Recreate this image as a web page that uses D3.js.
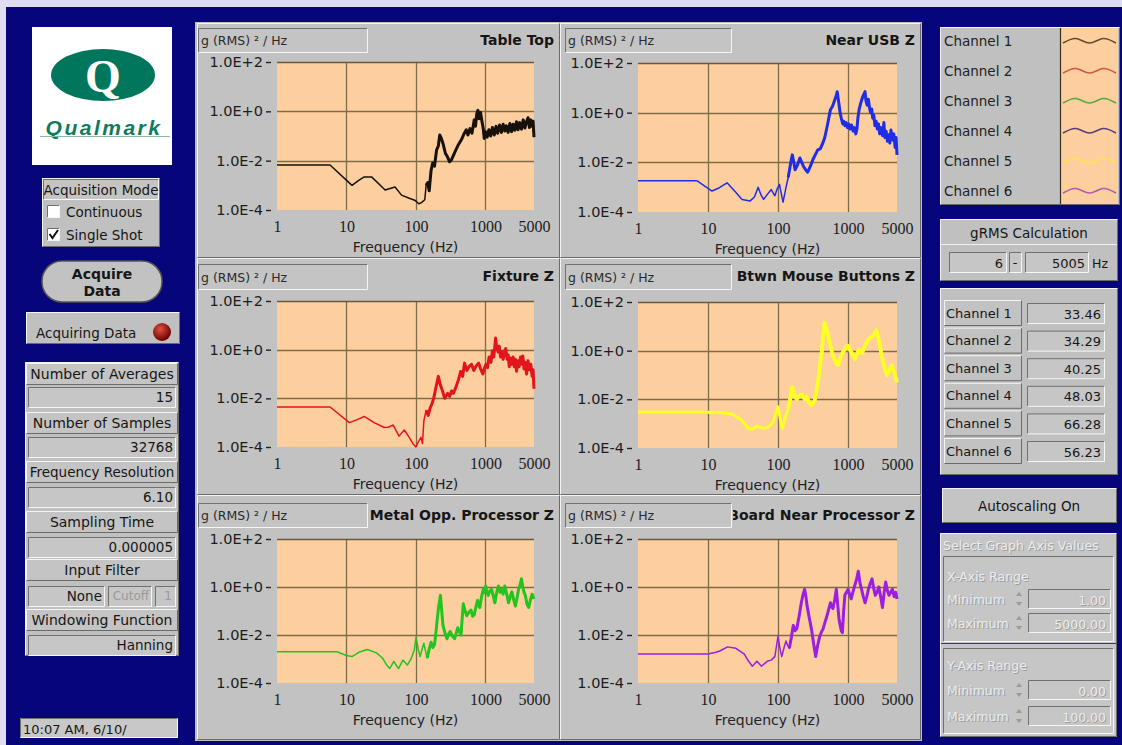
<!DOCTYPE html>
<html><head><meta charset="utf-8">
<script src="https://cdn.jsdelivr.net/npm/d3@7/dist/d3.min.js"></script>
<style>body{margin:0;background:#06067a;}svg{display:block;}</style>
</head><body>
<script>
// ---------------- DATA ----------------
const xTicks = [1, 10, 100, 1000, 5000];
const xTickLabels = ["1", "10", "100", "1000", "5000"];
const yTicks = [1e2, 1, 1e-2, 1e-4];
const yTickLabels = ["1.0E+2", "1.0E+0", "1.0E-2", "1.0E-4"];
const xGrid = [10, 100, 1000];
const yGrid = [1, 1e-2];
const panelTitles = ["Table Top", "Near USB Z", "Fixture Z", "Btwn Mouse Buttons Z", "Metal Opp. Processor Z", "Circuit Board Near Processor Z"];
const yUnit = "g (RMS) \u00B2 / Hz";
const xUnit = "Frequency (Hz)";

const tableTop = [[1,6.7e-3],[5.8,6.7e-3],[12,1.0e-3],[15,1.6e-3],[18,2.2e-3],[23,2.2e-3],[36,6.5e-4],[50,8.5e-4],[62,4e-4],[80,3e-4],[96,2.5e-4],[110,1.8e-4],[120,2e-4],[134,2.6e-4],[140,1e-3],[148,1.3e-3],[155,6e-4],[165,4e-3],[174,8e-3],[185,6e-3],[198,2.7e-2],[210,4e-2],[220,1.1e-1],[232,8e-2],[245,5e-2],[265,2e-2],[285,1.4e-2],[305,9e-3],[325,1.1e-2],[345,1.6e-2],[370,2.5e-2],[400,4e-2],[450,7e-2],[490,1.2e-1],[530,1.8e-1],[560,1.1e-1],[600,2e-1],[640,1.3e-1],[690,4.5e-1],[720,2.5e-1],[750,8e-1],[780,1.1],[810,5e-1],[850,9e-1],[890,4e-1],[930,2e-1],[960,8e-2],[1000,1.5e-1],[1060,9e-2],[1120,1.8e-1],[1190,1e-1],[1260,2.2e-1],[1340,1.1e-1],[1420,2.5e-1],[1500,1.3e-1],[1600,2.8e-1],[1700,1.4e-1],[1800,3e-1],[1900,1.6e-1],[2000,2.6e-1],[2120,1.4e-1],[2250,3.2e-1],[2380,1.5e-1],[2500,3e-1],[2650,1.7e-1],[2800,3.8e-1],[2950,1.8e-1],[3100,3.5e-1],[3300,1.9e-1],[3500,4.5e-1],[3700,2.1e-1],[3900,3.8e-1],[4100,5.5e-1],[4300,2.2e-1],[4500,4.5e-1],[4700,2.5e-1],[4850,4e-1],[5000,9e-2]];

const nearUSB = [[1,1.8e-3],[7,1.8e-3],[11.4,7e-4],[14,9e-4],[18.7,1.5e-3],[24,7e-4],[30.6,3.2e-4],[40,2.8e-4],[46,4e-4],[52,1e-3],[57,5e-4],[62,3.2e-4],[70,5e-4],[80,8e-4],[90,4.5e-4],[98,9e-4],[105,1.3e-3],[112,5e-4],[118,2.5e-4],[128,8e-4],[140,2.5e-3],[150,8e-3],[160,2e-2],[168,1e-2],[175,5e-3],[190,8e-3],[205,1.5e-2],[218,1e-2],[230,7e-3],[248,5e-3],[265,4e-3],[290,7e-3],[315,1.3e-2],[340,2e-2],[370,3.2e-2],[400,3.5e-2],[430,5.4e-2],[465,1e-1],[500,2.6e-1],[530,6e-1],[560,1.3],[600,1.8],[640,3],[680,5],[700,7],[720,4],[745,2],[770,1],[800,6e-1],[840,3.5e-1],[870,4.5e-1],[900,3e-1],[940,4e-1],[980,2.5e-1],[1020,3.5e-1],[1070,2.2e-1],[1120,3.2e-1],[1180,1.8e-1],[1230,2.5e-1],[1290,1.4e-1],[1340,2.2e-1],[1380,6e-1],[1450,1.5],[1550,3],[1650,5],[1750,7],[1800,3],[1880,2],[1950,3.5],[2030,1.5],[2100,1],[2180,1.4],[2250,6e-1],[2330,8e-1],[2420,3e-1],[2520,4.5e-1],[2620,2.2e-1],[2720,3.5e-1],[2830,1.4e-1],[2950,2.5e-1],[3100,1.2e-1],[3250,4e-1],[3350,1e-1],[3500,1.8e-1],[3650,7e-2],[3800,1.3e-1],[3950,6e-2],[4100,2e-1],[4300,8e-2],[4500,1.4e-1],[4700,4e-2],[4850,1e-1],[5000,2e-2]];

const fixtureZ = [[1,4.4e-3],[5.8,4.4e-3],[11,1e-3],[14,1.3e-3],[18,1.8e-3],[25,1e-3],[35,6.3e-4],[40,6.5e-4],[47,8e-4],[57,2.8e-4],[68,5e-4],[80,2.5e-4],[90,1.4e-4],[100,1e-4],[108,1.6e-4],[118,2.5e-4],[124,1.4e-4],[130,1.2e-3],[140,3.2e-3],[150,2e-3],[160,4e-3],[170,6e-3],[180,1e-2],[195,3e-2],[210,8e-2],[222,4e-2],[235,2.5e-2],[260,1e-2],[285,1.6e-2],[305,1.2e-2],[325,2e-2],[345,1.6e-2],[375,2.8e-2],[410,6e-2],[440,1.26e-1],[470,8e-2],[500,2.8e-1],[540,1.4e-1],[580,2e-1],[630,2.5e-1],[680,1.4e-1],[740,2.2e-1],[800,2.8e-1],[860,1.5e-1],[920,1e-1],[970,1.8e-1],[1020,2.5e-1],[1070,1.8e-1],[1130,5e-1],[1200,3e-1],[1260,9e-1],[1320,5e-1],[1400,3],[1450,1.2],[1520,8e-1],[1580,1.4],[1650,5e-1],[1720,8e-1],[1800,4e-1],[1880,9e-1],[1960,1.1],[2050,4e-1],[2130,6e-1],[2200,2e-1],[2300,4.5e-1],[2400,2.5e-1],[2500,5e-1],[2600,2e-1],[2700,4e-1],[2800,1.3e-1],[2950,3.5e-1],[3050,2e-1],[3200,5e-1],[3350,2.5e-1],[3450,5.5e-1],[3600,1.6e-1],[3750,3e-1],[3900,1e-1],[4100,3.5e-1],[4300,1.5e-1],[4500,2.5e-1],[4700,8e-2],[4850,1.5e-1],[5000,2.5e-2]];

const mouseButtons = [[1,3e-3],[8,3e-3],[12,2.9e-3],[16,2.8e-3],[22,2.5e-3],[30,1.4e-3],[38,6.3e-4],[44,6e-4],[50,8e-4],[60,6.5e-4],[70,7e-4],[80,9e-4],[86,1.3e-3],[100,5e-3],[108,1.5e-3],[115,6.3e-4],[125,1.5e-3],[140,4e-3],[160,3.2e-2],[172,1.5e-2],[185,1e-2],[200,1.4e-2],[220,1.6e-2],[240,1e-2],[255,1.3e-2],[280,7e-3],[300,5.6e-3],[335,9e-3],[375,6.3e-2],[400,3e-1],[420,8e-1],[440,4],[460,14],[480,9],[510,5.6],[540,2.5],[570,1.3],[600,7e-1],[640,4.5e-1],[680,3e-1],[720,2.5e-1],[760,4e-1],[800,6.3e-1],[850,9e-1],[900,1.1],[950,1.5],[1000,1.6],[1060,1.1],[1130,8e-1],[1200,6e-1],[1260,4.5e-1],[1340,7e-1],[1420,1.1],[1500,9e-1],[1590,8e-1],[1700,1.3],[1800,2],[1900,2.5],[2030,3.2],[2150,3.5],[2270,4],[2400,5],[2550,7],[2700,3.5],[2850,1.6],[3000,7e-1],[3200,3.2e-1],[3400,1.6e-1],[3600,1e-1],[3900,1.6e-1],[4200,2.5e-1],[4600,1.2e-1],[5000,5e-2]];

const metalOpp = [[1,2e-3],[7.3,2e-3],[10,1.4e-3],[12,1.26e-3],[15,1.9e-3],[20,2.5e-3],[27,1.8e-3],[33,1.1e-3],[38,5.6e-4],[42,4e-4],[48,8e-4],[56,4e-4],[65,9e-4],[75,5.6e-4],[85,1e-3],[95,2.5e-3],[100,8e-3],[108,2.5e-3],[115,1.26e-3],[122,2.5e-3],[130,4.5e-3],[138,2e-3],[145,1.1e-3],[155,2.5e-3],[165,5e-3],[175,3e-3],[185,4e-3],[192,1e-2],[200,3.2e-2],[212,1.5e-1],[225,4.5e-1],[235,1e-1],[245,2.5e-2],[262,1.2e-2],[280,7e-3],[295,1.1e-2],[310,1.4e-2],[335,9e-3],[360,7e-3],[380,1.2e-2],[400,2e-2],[420,1.4e-2],[445,1e-2],[465,6e-2],[480,2e-1],[510,1e-1],[540,6.3e-2],[580,9e-2],[620,1.1e-1],[655,6e-2],[690,7e-2],[730,1.5e-1],[770,2.8e-1],[800,1.6e-1],[830,1.4e-1],[880,4e-1],[930,8e-1],[970,6e-1],[1010,1.1],[1050,6e-1],[1100,4.5e-1],[1160,7e-1],[1230,8e-1],[1300,4e-1],[1370,2.2e-1],[1450,6e-1],[1540,1.1],[1620,6e-1],[1700,8e-1],[1800,5e-1],[1900,1.1],[2000,6e-1],[2150,2.2e-1],[2270,4e-1],[2400,6.3e-1],[2550,3e-1],[2700,1.6e-1],[2850,3.5e-1],[3000,8e-1],[3150,1.2],[3300,2.2],[3450,1],[3600,6e-1],[3750,4.5e-1],[3950,2e-1],[4200,1.4e-1],[4450,3e-1],[4700,5e-1],[5000,3.2e-1]];

const boardNear = [[1,1.6e-3],[10,1.6e-3],[13,1.9e-3],[15,2.2e-3],[19,3.2e-3],[25,2.8e-3],[33,1.6e-3],[38,8e-4],[43,5e-4],[50,8e-4],[58,5e-4],[70,8e-4],[80,9e-4],[90,1.26e-3],[100,9e-3],[106,3e-3],[113,1.26e-3],[122,3e-3],[130,5.6e-3],[138,3.5e-3],[145,2.8e-3],[155,8e-3],[165,2.5e-2],[175,1.5e-2],[185,1.8e-2],[200,6e-2],[215,2.2e-1],[228,5e-1],[240,8e-1],[250,4e-1],[260,1.6e-1],[280,5e-2],[300,1.8e-2],[320,5e-3],[345,1.26e-3],[370,4e-3],[395,9e-3],[420,1.4e-2],[440,1.8e-2],[470,3.5e-2],[500,6.3e-2],[530,1.2e-1],[560,2.2e-1],[585,1.5e-1],[610,1.26e-1],[645,3e-1],[680,8e-1],[710,2e-1],[740,5e-2],[760,3.2e-2],[800,1.5e-2],[830,1.26e-2],[860,8e-2],[900,4.5e-1],[950,6e-1],[1000,8e-1],[1050,5e-1],[1110,3.2e-1],[1170,6e-1],[1240,1.1],[1320,2],[1400,4.5],[1480,1.5],[1560,8e-1],[1650,4e-1],[1750,2.2e-1],[1850,4e-1],[1950,8e-1],[2070,1.4],[2200,2.2],[2320,9e-1],[2450,4.5e-1],[2600,6e-1],[2750,1],[2920,4e-1],[3100,1.4e-1],[3280,6e-1],[3450,1.6],[3650,7e-1],[3850,4.5e-1],[4050,6e-1],[4300,8e-1],[4550,4e-1],[4800,6e-1],[5000,3.2e-1]];

const seriesList = [tableTop, nearUSB, fixtureZ, mouseButtons, metalOpp, boardNear];
const seriesColors = ["#17110a", "#1f2de8", "#e4141c", "#ffff26", "#24c41e", "#9b1fe0"];

const channelNames = ["Channel 1", "Channel 2", "Channel 3", "Channel 4", "Channel 5", "Channel 6"];
const legendColors = ["#6b4a2a", "#c85a48", "#58a838", "#5a3c7a", "#ffe44a", "#b25ab2"];
const legendWave = [2, -2.5, 2, -2.5, 2];
const grmsValues = ["33.46", "34.29", "40.25", "48.03", "66.28", "56.23"];
const grmsRange = ["6", "5005"];

const statLabels = ["Number of Averages", "Number of Samples", "Frequency Resolution", "Sampling Time", "Input Filter", "Windowing Function"];
const statValues = ["15", "32768", "6.10", "0.000005", "None", "Hanning"];
const timestamp = "10:07 AM, 6/10/";

// ---------------- LAYOUT ----------------
const FONT = "DejaVu Sans";
const svg = d3.select("body").append("svg").attr("width", 1122).attr("height", 745);
const defs = svg.append("defs");

svg.append("rect").attr("width", 1122).attr("height", 745).attr("fill", "#dedeee");
svg.append("rect").attr("x", 6).attr("y", 7).attr("width", 1116).attr("height", 738).attr("fill", "#06067a");

function R(g, x, y, w, h, fill) {
  return g.append("rect").attr("x", x).attr("y", y).attr("width", w).attr("height", h).attr("fill", fill);
}
function bevel(g, x, y, w, h, fill, tl, br) {
  R(g, x, y, w, h, fill);
  g.append("path").attr("d", `M${x+0.5},${y+h-0.5}V${y+0.5}H${x+w-0.5}`).attr("stroke", tl).attr("fill", "none");
  g.append("path").attr("d", `M${x+w-0.5},${y+0.5}V${y+h-0.5}H${x+0.5}`).attr("stroke", br).attr("fill", "none");
}
const sunken = (g, x, y, w, h, fill) => bevel(g, x, y, w, h, fill || "#c8c8c8", "#707070", "#f6f6f6");
const raised = (g, x, y, w, h, fill) => bevel(g, x, y, w, h, fill || "#c2c2c2", "#f4f4f4", "#6a6a6a");
function T(g, x, y, s, o) {
  o = o || {};
  return g.append("text").attr("x", x).attr("y", y).text(s)
    .attr("font-family", o.family || FONT).attr("font-size", o.size || 13)
    .attr("font-weight", o.weight || "normal").attr("font-style", o.style || "normal")
    .attr("text-anchor", o.anchor || "start").attr("dominant-baseline", "central")
    .attr("fill", o.fill || "#161616");
}

// ---------------- CENTRAL CHART PANELS ----------------
R(svg, 195, 22, 727, 719, "#c0c0c0");
const panels = [
  { px: 197, py: 23, pw: 363, ph: 235, lb: [198, 28, 170, 25], plot: [277, 534, 62, 210] },
  { px: 560, py: 23, pw: 361, ph: 235, lb: [565, 28, 167, 25], plot: [638, 897, 63, 212] },
  { px: 197, py: 258, pw: 363, ph: 237, lb: [198, 264, 170, 26], plot: [277, 534, 301, 447] },
  { px: 560, py: 258, pw: 361, ph: 237, lb: [565, 264, 167, 26], plot: [638, 897, 302, 448] },
  { px: 197, py: 495, pw: 363, ph: 245, lb: [198, 503, 170, 25], plot: [277, 534, 539, 683] },
  { px: 560, py: 495, pw: 361, ph: 245, lb: [565, 503, 167, 25], plot: [638, 897, 539, 683] }
];

panels.forEach((p, i) => {
  const g = svg.append("g");
  raised(g, p.px, p.py, p.pw, p.ph, "#c2c2c2");
  const [x0, x1, y0, y1] = p.plot;
  const x = d3.scaleLog().domain([1, 5000]).range([x0, x1]);
  const y = d3.scaleLog().domain([1e-4, 1e2]).range([y1, y0]);
  const lbx = p.lb[0], lby = p.lb[1], lbw = p.lb[2], lbh = p.lb[3];

  // title (clipped to the right of the unit box)
  const cid = "tclip" + i;
  defs.append("clipPath").attr("id", cid).append("rect")
    .attr("x", lbx + lbw + 1).attr("y", p.py).attr("width", p.px + p.pw - lbx - lbw).attr("height", 40);
  T(g, p.px + p.pw - 6, lby + lbh / 2 - 1, panelTitles[i], { weight: "bold", anchor: "end", size: 14 })
    .attr("clip-path", `url(#${cid})`);

  sunken(g, lbx, lby, lbw, lbh, "#c4c4c4");
  T(g, lbx + 3, lby + lbh / 2, yUnit, { size: 12.5, fill: "#2a2a2a" });

  // plot area
  R(g, x0, y0, x1 - x0, y1 - y0, "#fdcf9f");
  g.append("g").selectAll("line.vx").data(xGrid).join("line")
    .attr("x1", d => Math.round(x(d)) + 0.5).attr("x2", d => Math.round(x(d)) + 0.5)
    .attr("y1", y0).attr("y2", y1).attr("stroke", "#7f6c47").attr("stroke-width", 1.3);
  g.append("g").selectAll("line.hy").data(yGrid).join("line")
    .attr("y1", d => Math.round(y(d)) + 0.5).attr("y2", d => Math.round(y(d)) + 0.5)
    .attr("x1", x0).attr("x2", x1).attr("stroke", "#7f6c47").attr("stroke-width", 1.3);
  g.append("line").attr("x1", x0).attr("x2", x1).attr("y1", y0 + 0.5).attr("y2", y0 + 0.5)
    .attr("stroke", "#6a5a3a").attr("stroke-width", 1.5);

  // axes
  const ya = g.append("g").attr("transform", `translate(${x0 - 6},0)`)
    .call(d3.axisLeft(y).tickValues(yTicks).tickFormat((d, k) => yTickLabels[k]).tickSize(5).tickPadding(3));
  ya.select(".domain").remove();
  ya.selectAll("line").attr("stroke", "#222").attr("stroke-width", 1.4);
  ya.selectAll("text").attr("font-family", FONT).attr("font-size", 14.5).attr("fill", "#1c1c1c");

  const xa = g.append("g").attr("transform", `translate(0,${y1})`)
    .call(d3.axisBottom(x).tickValues(xTicks).tickFormat((d, k) => xTickLabels[k]).tickSize(0).tickPadding(11));
  xa.select(".domain").remove();
  xa.selectAll("text").attr("font-family", "Liberation Serif").attr("font-size", 16).attr("fill", "#1c1c1c");

  T(g, (x0 + x1) / 2, y1 + 37, xUnit, { anchor: "middle", size: 14, fill: "#222" });

  // series
  const pid = "pclip" + i;
  defs.append("clipPath").attr("id", pid).append("rect")
    .attr("x", x0).attr("y", y0 - 2).attr("width", x1 - x0 + 2).attr("height", y1 - y0 + 4);
  const line = d3.line().x(d => x(d[0])).y(d => y(d[1]));
  const data = seriesList[i];
  g.append("path").datum(data).attr("d", line).attr("fill", "none")
    .attr("stroke", seriesColors[i]).attr("stroke-width", i === 3 ? 3 : 1.5)
    .attr("stroke-linejoin", "round").attr("clip-path", `url(#${pid})`);
  g.append("path").datum(data.filter(d => d[0] >= 140)).attr("d", line).attr("fill", "none")
    .attr("stroke", seriesColors[i]).attr("stroke-width", i === 3 ? 3.8 : 3)
    .attr("stroke-linejoin", "round").attr("clip-path", `url(#${pid})`);
});

// ---------------- LEFT COLUMN ----------------
const L = svg.append("g");
R(L, 32, 27, 140, 138, "#ffffff");
L.append("ellipse").attr("cx", 103).attr("cy", 75).attr("rx", 52).attr("ry", 26).attr("fill", "#00775c");
T(L, 103, 76, "Q", { family: "Liberation Serif", weight: "bold", size: 46, anchor: "middle", fill: "#ffffff" });
T(L, 104, 127, "Qualmark", { family: "Liberation Sans", weight: "bold", style: "italic", size: 21, anchor: "middle", fill: "#0f7a5e" })
  .attr("letter-spacing", 2.5);
L.append("line").attr("x1", 40).attr("x2", 170).attr("y1", 136.5).attr("y2", 136.5).attr("stroke", "#8ab8a8");

// Acquisition mode
raised(L, 42, 178, 118, 69, "#c0c0c0");
sunken(L, 43, 179, 116, 21, "#c4c4c4");
T(L, 101, 190, "Acquisition Mode", { anchor: "middle", size: 13.5 });
sunken(L, 47, 205, 13, 13, "#ffffff");
T(L, 66, 212, "Continuous", { size: 13.5 });
sunken(L, 47, 228, 13, 13, "#ffffff");
L.append("path").attr("d", "M49.5,234 L52.5,238 L58,230").attr("stroke", "#111").attr("stroke-width", 2).attr("fill", "none");
T(L, 66, 235, "Single Shot", { size: 13.5 });

// Acquire Data button
L.append("rect").attr("x", 42).attr("y", 261).attr("width", 120).attr("height", 41).attr("rx", 20).attr("ry", 20)
  .attr("fill", "#c2c2c2").attr("stroke", "#555").attr("stroke-width", 1.5);
T(L, 102, 274, "Acquire", { weight: "bold", anchor: "middle", size: 14 });
T(L, 102, 291, "Data", { weight: "bold", anchor: "middle", size: 14 });

// Acquiring Data
raised(L, 26, 312, 154, 32, "#c0c0c0");
T(L, 36, 333, "Acquiring Data", { size: 13.5 });
const led = defs.append("radialGradient").attr("id", "led").attr("cx", "40%").attr("cy", "35%").attr("r", "65%");
led.append("stop").attr("offset", "0%").attr("stop-color", "#e05040");
led.append("stop").attr("offset", "100%").attr("stop-color", "#6a0000");
L.append("circle").attr("cx", 162).attr("cy", 332).attr("r", 9).attr("fill", "url(#led)");

// Stats panel
raised(L, 25, 362, 154, 294, "#c0c0c0");
const labelY = [374, 423, 472, 522, 570, 620];
const valueY = [397, 447, 497, 547, 596, 645];
statLabels.forEach((s, k) => {
  raised(L, 26, labelY[k] - 11, 152, 22, "#c4c4c4");
  T(L, 102, labelY[k], s, { anchor: "middle", size: k === 2 ? 13.5 : 14 });
});
statValues.forEach((s, k) => {
  if (k === 4) {
    sunken(L, 28, valueY[k] - 10, 77, 21, "#c6c6c6");
    T(L, 102, valueY[k], s, { anchor: "end", size: 13.5 });
    sunken(L, 108, valueY[k] - 10, 44, 21, "#c6c6c6");
    T(L, 149, valueY[k], "Cutoff", { anchor: "end", size: 12, fill: "#9a9a9a" });
    sunken(L, 155, valueY[k] - 10, 21, 21, "#c6c6c6");
    T(L, 172, valueY[k], "1", { anchor: "end", size: 12, fill: "#9a9a9a" });
  } else {
    sunken(L, 28, valueY[k] - 10, 148, 21, "#c6c6c6");
    T(L, 173, valueY[k], s, { anchor: "end", size: 13.5 });
  }
});

// Timestamp
sunken(L, 20, 718, 158, 20, "#c8c8c8");
T(L, 23, 729, timestamp, { size: 13 });

// ---------------- RIGHT COLUMN ----------------
const Rg = svg.append("g");
raised(Rg, 940, 27, 180, 178, "#c0c0c0");
R(Rg, 1060, 28, 58, 176, "#fdcf9f");
Rg.append("line").attr("x1", 1060.5).attr("x2", 1060.5).attr("y1", 28).attr("y2", 204).attr("stroke", "#3a3020").attr("stroke-width", 1.2);
const waveX = d3.scaleLinear().domain([0, legendWave.length - 1]).range([1063, 1116]);
const waveLine = d3.line().x((d, k) => waveX(k)).y(d => d).curve(d3.curveNatural);
channelNames.forEach((c, k) => {
  const cy = 41 + k * 30;
  T(Rg, 944, cy, c, { size: 13.5, fill: "#222" });
  Rg.append("path").attr("d", waveLine(legendWave.map(v => cy + v)))
    .attr("fill", "none").attr("stroke", legendColors[k]).attr("stroke-width", 1.6);
});

// gRMS calculation
raised(Rg, 940, 219, 178, 62, "#c0c0c0");
T(Rg, 1029, 233, "gRMS Calculation", { anchor: "middle", size: 13.5 });
Rg.append("line").attr("x1", 941).attr("x2", 1117).attr("y1", 244.5).attr("y2", 244.5).attr("stroke", "#f0f0f0");
sunken(Rg, 949, 252, 58, 21, "#c6c6c6");
T(Rg, 1003, 263, grmsRange[0], { anchor: "end", size: 13 });
sunken(Rg, 1009, 252, 13, 21, "#c6c6c6");
T(Rg, 1015, 262, "-", { anchor: "middle", size: 13 });
sunken(Rg, 1025, 252, 64, 21, "#c6c6c6");
T(Rg, 1085, 263, grmsRange[1], { anchor: "end", size: 13 });
T(Rg, 1092, 263, "Hz", { size: 12.5 });

// channel values
raised(Rg, 940, 288, 178, 187, "#c0c0c0");
grmsValues.forEach((v, k) => {
  const cy = 313 + k * 27.6;
  raised(Rg, 944, cy - 13, 78, 26, "#c2c2c2");
  T(Rg, 946, cy, channelNames[k], { size: 13 });
  sunken(Rg, 1027, cy - 10, 78, 21, "#c6c6c6");
  T(Rg, 1101, cy + 1, v, { anchor: "end", size: 13 });
});

// Autoscaling button
raised(Rg, 942, 488, 175, 35, "#c4c4c4");
T(Rg, 1029, 506, "Autoscaling On", { anchor: "middle", size: 13.5 });

// disabled axis settings
const dis = (x, y, s, anchor) => {
  T(Rg, x + 1, y + 1, s, { size: 12.5, fill: "#9c9c9c", anchor: anchor || "start" });
  T(Rg, x, y, s, { size: 12.5, fill: "#ececec", anchor: anchor || "start" });
};
raised(Rg, 940, 533, 177, 204, "#c6c6c6");
dis(943, 545, "Select Graph Axis Values");
sunken(Rg, 943, 556, 171, 86, "#c6c6c6");
dis(947, 576, "X-Axis Range");
dis(947, 599, "Minimum");
dis(947, 623, "Maximum");
sunken(Rg, 1028, 589, 83, 20, "#c6c6c6");
sunken(Rg, 1028, 613, 83, 20, "#c6c6c6");
dis(1106, 600, "1.00", "end");
dis(1106, 624, "5000.00", "end");
Rg.append("line").attr("x1", 941).attr("x2", 1116).attr("y1", 643.5).attr("y2", 643.5).attr("stroke", "#3a3a5a");
sunken(Rg, 943, 648, 171, 86, "#c6c6c6");
dis(947, 665, "Y-Axis Range");
dis(947, 690, "Minimum");
dis(947, 716, "Maximum");
sunken(Rg, 1028, 680, 83, 20, "#c6c6c6");
sunken(Rg, 1028, 706, 83, 20, "#c6c6c6");
dis(1106, 691, "0.00", "end");
dis(1106, 717, "100.00", "end");
[599, 623, 690, 716].forEach(cy => {
  Rg.append("path").attr("d", `M1016,${cy - 3} l3,-4 l3,4 Z M1016,${cy + 3} l3,4 l3,-4 Z`).attr("fill", "#9a9a9a");
});
</script>
</body></html>
